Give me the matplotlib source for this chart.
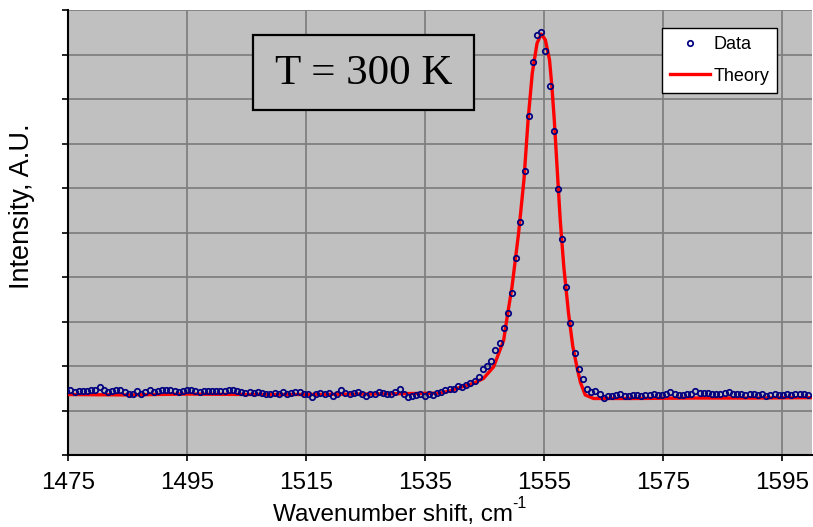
import numpy as np
import matplotlib
matplotlib.use("Agg")
import matplotlib.pyplot as plt
from matplotlib.patches import Rectangle

# ---- data ----
data_x_start = 1474.7
data_x_step = 0.7
data_y = [
    1.44, 1.45, 1.41, 1.43, 1.44, 1.44, 1.45, 1.47, 1.52, 1.46,
    1.41, 1.44, 1.45, 1.47, 1.42, 1.37, 1.38, 1.44, 1.37, 1.42,
    1.46, 1.41, 1.44, 1.46, 1.45, 1.45, 1.43, 1.42, 1.44, 1.47,
    1.45, 1.44, 1.42, 1.43, 1.43, 1.43, 1.44, 1.43, 1.44, 1.46,
    1.46, 1.43, 1.42, 1.40, 1.42, 1.40, 1.42, 1.39, 1.37, 1.36,
    1.39, 1.37, 1.41, 1.38, 1.39, 1.41, 1.42, 1.37, 1.36, 1.31,
    1.38, 1.39, 1.37, 1.39, 1.32, 1.37, 1.45, 1.40, 1.38, 1.39,
    1.42, 1.37, 1.32, 1.36, 1.38, 1.41, 1.39, 1.37, 1.38, 1.42,
    1.48, 1.36, 1.30, 1.33, 1.34, 1.37, 1.33, 1.38, 1.34, 1.40, 1.42,
    1.47, 1.48, 1.48, 1.55, 1.53, 1.58, 1.61, 1.67, 1.76, 1.93,
    2.00, 2.12, 2.36, 2.51, 2.86, 3.18, 3.65, 4.42, 5.24, 6.38,
    7.62, 8.83, 9.44, 9.51, 9.08, 8.30, 7.27, 5.98, 4.85, 3.78,
    2.97, 2.30, 1.94, 1.70,
    1.48, 1.42, 1.43, 1.36, 1.29, 1.32, 1.33,
    1.34, 1.36, 1.33, 1.33, 1.35, 1.34, 1.33, 1.35, 1.34, 1.37,
    1.35, 1.34, 1.36, 1.41, 1.36, 1.34, 1.35, 1.36, 1.38, 1.44,
    1.39, 1.39, 1.39, 1.38, 1.38, 1.36, 1.40, 1.41, 1.38, 1.36,
    1.36, 1.35, 1.36, 1.37, 1.34, 1.36, 1.33, 1.34, 1.36, 1.35,
    1.34, 1.38, 1.35, 1.36, 1.38, 1.36, 1.35,
]
data_x = data_x_start + data_x_step * np.arange(len(data_y))

theory_x = [1474, 1485, 1495, 1505, 1515, 1525, 1532, 1537.5, 1539.2, 1540.9,
            1543.1, 1544.8, 1546.5, 1548.2, 1548.7, 1549.6, 1550.7, 1551.6,
            1552.3, 1553.0, 1553.8, 1554.5, 1555.2, 1555.9, 1556.3, 1556.7,
            1557.2, 1557.7, 1558.3, 1559.1, 1559.8, 1560.5, 1561.1, 1561.9,
            1563.3, 1564.5, 1570, 1580, 1590, 1601]
theory_y = [1.36, 1.35, 1.37, 1.36, 1.36, 1.37, 1.38, 1.39, 1.44, 1.52,
            1.61, 1.72, 1.98, 2.58, 3.03, 3.78, 4.98, 6.18,
            7.53, 8.58, 9.25, 9.46, 9.33, 8.88, 8.28, 7.53,
            6.40, 5.28, 4.23, 3.18, 2.45, 1.98, 1.63, 1.35,
            1.27, 1.27, 1.27, 1.28, 1.28, 1.29]

x_ticks = [1475, 1495, 1515, 1535, 1555, 1575, 1595]
y_ticks = list(range(0, 11))

# ---- figure ----
W, H = 813, 527
fig = plt.figure(figsize=(W / 100, H / 100), dpi=100)
ax = fig.add_axes([68 / W, (H - 455) / H, (812 - 68) / W, (455 - 10) / H])
ax.set_facecolor("#C0C0C0")

ax.set_xlim(1475, 1600)
ax.set_ylim(0, 10)
ax.set_xticks(x_ticks)
ax.set_xticklabels([str(t) for t in x_ticks], fontsize=17.5, family="Liberation Sans")
ax.set_yticks(y_ticks)
ax.set_yticklabels([])
ax.grid(True, color="#808080", lw=1.3)
ax.set_axisbelow(True)

for s in ["top", "right"]:
    ax.spines[s].set_visible(False)
for s in ["left", "bottom"]:
    ax.spines[s].set_color("black")
    ax.spines[s].set_linewidth(1.5)
ax.tick_params(axis="both", direction="out", length=4, width=1.2, color="black")
ax.tick_params(axis="x", pad=8.5)

ax.plot(theory_x, theory_y, color="#FF0000", lw=2.4, label="Theory", zorder=3)
ax.plot(data_x, data_y, ls="none", marker="o", ms=3.9, mfc="none", mec="#000080",
        mew=1.25, label="Data", zorder=4)

# axis labels
fig.text(273 / W, 1 - 521 / H, "Wavenumber shift, cm", ha="left", va="baseline",
         fontsize=17.5, family="Liberation Sans")
fig.text(512 / W, 1 - 508 / H, "-1", ha="left", va="baseline",
         fontsize=11.5, family="Liberation Sans")
fig.text(22 / W, 1 - 206.5 / H, "Intensity, A.U.", ha="center", va="center",
         rotation=90, fontsize=19.5, family="Liberation Sans")

handles, labels = ax.get_legend_handles_labels()
leg = ax.legend(handles[::-1], labels[::-1], loc="upper left",
                bbox_to_anchor=(662 / W, 1 - 28 / H), bbox_transform=fig.transFigure,
                prop={"family": "Liberation Sans", "size": 13}, frameon=True,
                fancybox=False, edgecolor="black", facecolor="white", framealpha=1,
                borderaxespad=0, handlelength=2.2, handletextpad=0.2,
                labelspacing=0.8, borderpad=0.45)
leg.get_frame().set_linewidth(1.0)

# temperature box
ax.add_patch(Rectangle((252.7 / W, 1 - 110 / H), (474.3 - 252.7) / W, 75 / H,
                       transform=fig.transFigure, facecolor="#C0C0C0",
                       edgecolor="black", lw=1.6, clip_on=False, zorder=5))
fig.text(363.5 / W, 1 - 74 / H, "T = 300 K", ha="center", va="center",
         fontsize=31, family="Liberation Serif", zorder=6)

fig.savefig("out.png", dpi=100)
